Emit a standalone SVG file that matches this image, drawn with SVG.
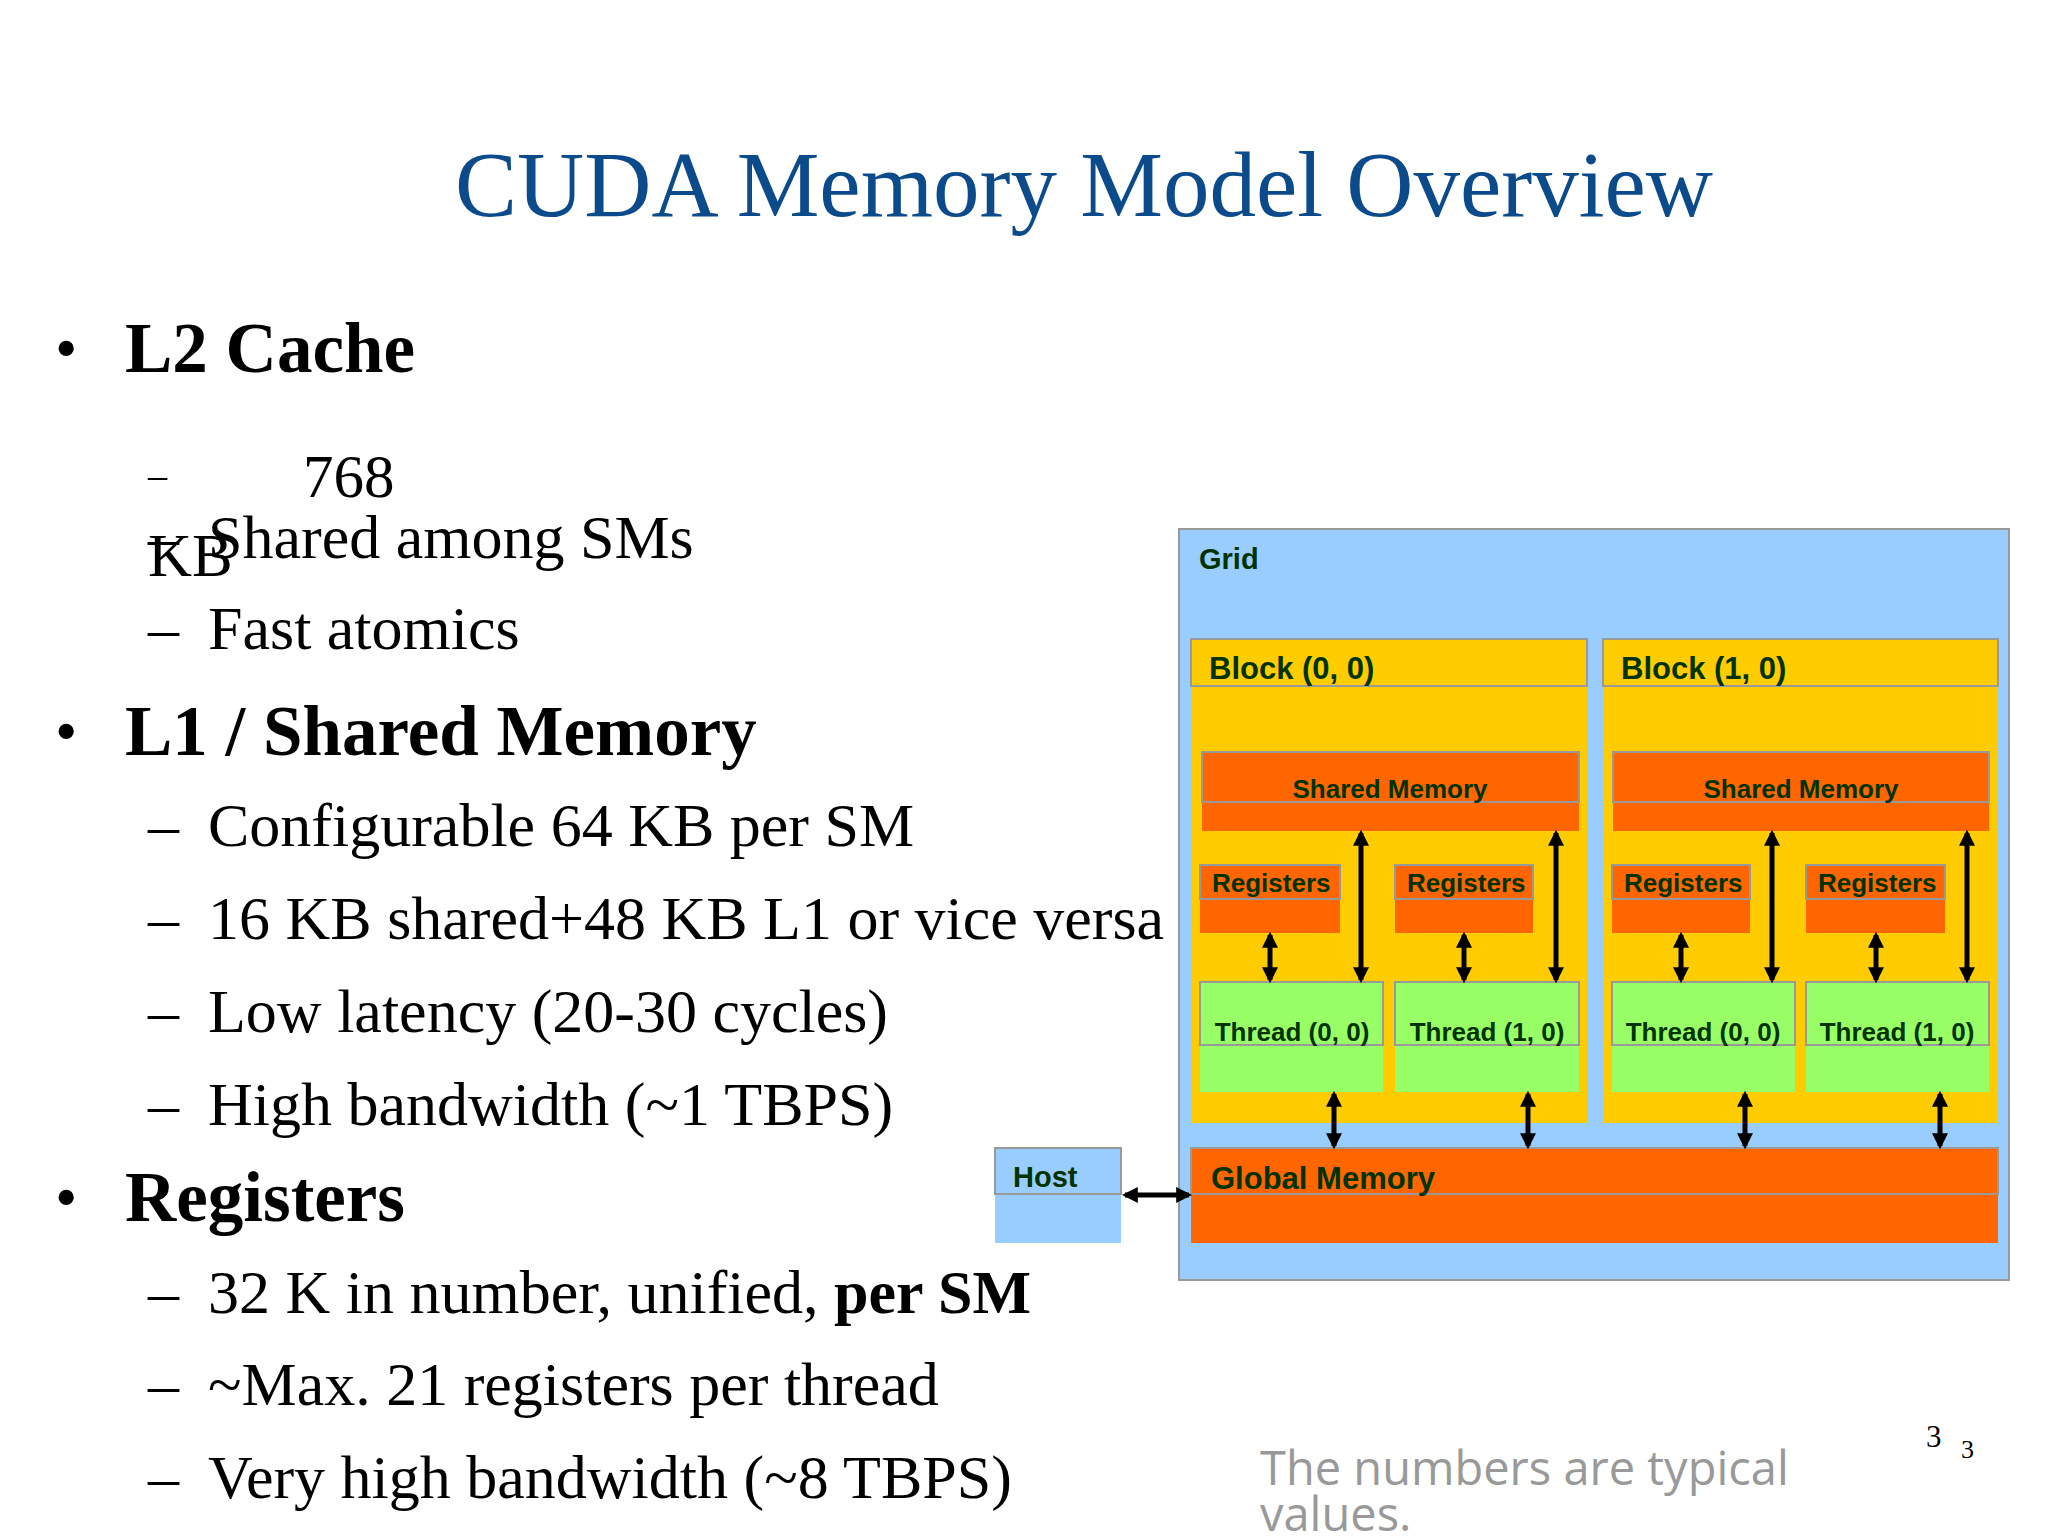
<svg xmlns="http://www.w3.org/2000/svg" width="2048" height="1536" viewBox="0 0 2048 1536">
<style>
.s{font-family:"Liberation Serif","Times New Roman",serif;fill:#000}
.d{font-family:"Liberation Sans",Arial,sans-serif;font-weight:bold;fill:#003300}
.b{stroke:#999;stroke-width:2}
.ln{stroke:#000;stroke-width:5;fill:none;marker-start:url(#a);marker-end:url(#a)}
</style>
<defs><marker id="a" viewBox="0 0 10 10" refX="8" refY="5" markerWidth="3.2" markerHeight="3.2" orient="auto-start-reverse"><path d="M0,0L10,5L0,10z" fill="#000"/></marker></defs>
<rect width="2048" height="1536" fill="#fff"/>
<text x="1084" y="216" text-anchor="middle" font-size="93" font-family="Liberation Serif,serif" fill="#0b4a8b">CUDA Memory Model Overview</text>
<g class="s">
<text x="55" y="370" font-size="64">•</text><text x="125" y="372" font-size="71" font-weight="bold">L2 Cache</text>
<text x="148" y="488" font-size="38">–</text><text x="303" y="497" font-size="61">768</text>
<text x="148" y="576" font-size="61">KB</text>
<text x="148" y="558" font-size="62">–</text><text x="208" y="558" font-size="62">Shared among SMs</text>
<text x="148" y="649" font-size="62">–</text><text x="208" y="649" font-size="62">Fast atomics</text>
<text x="55" y="753" font-size="64">•</text><text x="125" y="755" font-size="71" font-weight="bold">L1 / Shared Memory</text>
<text x="148" y="846" font-size="62">–</text><text x="208" y="846" font-size="62">Configurable 64 KB per SM</text>
<text x="148" y="939" font-size="62">–</text><text x="208" y="939" font-size="62">16 KB shared+48 KB L1 or vice versa</text>
<text x="148" y="1032" font-size="62">–</text><text x="208" y="1032" font-size="62">Low latency (20-30 cycles)</text>
<text x="148" y="1125" font-size="62">–</text><text x="208" y="1125" font-size="62">High bandwidth (~1 TBPS)</text>
<text x="55" y="1219" font-size="64">•</text><text x="125" y="1221" font-size="71" font-weight="bold">Registers</text>
<text x="148" y="1313" font-size="62">–</text><text x="208" y="1313" font-size="62">32 K in number, unified, <tspan font-weight="bold">per SM</tspan></text>
<text x="148" y="1405" font-size="62">–</text><text x="208" y="1405" font-size="62">~Max. 21 registers per thread</text>
<text x="148" y="1498" font-size="62">–</text><text x="208" y="1498" font-size="62">Very high bandwidth (~8 TBPS)</text>
</g>
<text x="1260" y="1485" font-size="47" font-family="Open Sans,sans-serif" fill="#999">The numbers are typical</text>
<text x="1260" y="1531" font-size="47" font-family="Open Sans,sans-serif" fill="#999">values.</text>
<text x="1926" y="1447" font-size="31" class="s">3</text>
<text x="1961" y="1458" font-size="26" class="s">3</text>
<g id="grid"><rect x="1179" y="529" width="830" height="751" fill="#99ccff" class="b"/><text x="1199" y="569" font-size="29" class="d">Grid</text></g>
<g id="block00"><rect x="1191" y="639" width="396" height="484" fill="#ffcc00"/><rect x="1191" y="639" width="396" height="47" fill="none" class="b"/><text x="1209" y="679" font-size="31" class="d">Block (0, 0)</text></g>
<g id="block10"><rect x="1603" y="639" width="395" height="484" fill="#ffcc00"/><rect x="1603" y="639" width="395" height="47" fill="none" class="b"/><text x="1621" y="679" font-size="31" class="d">Block (1, 0)</text></g>
<g id="shared0"><rect x="1202" y="752" width="377" height="79" fill="#ff6600"/><rect x="1202" y="752" width="377" height="50" fill="none" class="b"/><text x="1390" y="798" font-size="26" text-anchor="middle" class="d">Shared Memory</text></g>
<g id="shared1"><rect x="1613" y="752" width="376" height="79" fill="#ff6600"/><rect x="1613" y="752" width="376" height="50" fill="none" class="b"/><text x="1801" y="798" font-size="26" text-anchor="middle" class="d">Shared Memory</text></g>
<g id="reg00"><rect x="1200" y="865" width="140" height="68" fill="#ff6600"/><rect x="1200" y="865" width="140" height="34" fill="none" class="b"/><text x="1212" y="892" font-size="26" class="d">Registers</text></g>
<g id="reg01"><rect x="1395" y="865" width="138" height="68" fill="#ff6600"/><rect x="1395" y="865" width="138" height="34" fill="none" class="b"/><text x="1407" y="892" font-size="26" class="d">Registers</text></g>
<g id="reg10"><rect x="1612" y="865" width="138" height="68" fill="#ff6600"/><rect x="1612" y="865" width="138" height="34" fill="none" class="b"/><text x="1624" y="892" font-size="26" class="d">Registers</text></g>
<g id="reg11"><rect x="1806" y="865" width="139" height="68" fill="#ff6600"/><rect x="1806" y="865" width="139" height="34" fill="none" class="b"/><text x="1818" y="892" font-size="26" class="d">Registers</text></g>
<g id="th00"><rect x="1200" y="982" width="183" height="110" fill="#99ff66"/><rect x="1200" y="982" width="183" height="63" fill="none" class="b"/><text x="1292" y="1041" font-size="26" text-anchor="middle" class="d">Thread (0, 0)</text></g>
<g id="th01"><rect x="1395" y="982" width="184" height="110" fill="#99ff66"/><rect x="1395" y="982" width="184" height="63" fill="none" class="b"/><text x="1487" y="1041" font-size="26" text-anchor="middle" class="d">Thread (1, 0)</text></g>
<g id="th10"><rect x="1612" y="982" width="183" height="110" fill="#99ff66"/><rect x="1612" y="982" width="183" height="63" fill="none" class="b"/><text x="1703" y="1041" font-size="26" text-anchor="middle" class="d">Thread (0, 0)</text></g>
<g id="th11"><rect x="1806" y="982" width="183" height="110" fill="#99ff66"/><rect x="1806" y="982" width="183" height="63" fill="none" class="b"/><text x="1897" y="1041" font-size="26" text-anchor="middle" class="d">Thread (1, 0)</text></g>
<g id="global"><rect x="1191" y="1148" width="807" height="95" fill="#ff6600"/><rect x="1191" y="1148" width="807" height="46" fill="none" class="b"/><text x="1211" y="1189" font-size="31" class="d">Global Memory</text></g>
<g id="host"><rect x="995" y="1148" width="126" height="95" fill="#99ccff"/><rect x="995" y="1148" width="126" height="46" fill="none" class="b"/><text x="1013" y="1187" font-size="29" class="d">Host</text></g>
<g id="connectors">
<line class="ln" x1="1270" y1="935" x2="1270" y2="980"/><line class="ln" x1="1464" y1="935" x2="1464" y2="980"/>
<line class="ln" x1="1681" y1="935" x2="1681" y2="980"/><line class="ln" x1="1876" y1="935" x2="1876" y2="980"/>
<line class="ln" x1="1361" y1="833" x2="1361" y2="980"/><line class="ln" x1="1556" y1="833" x2="1556" y2="980"/>
<line class="ln" x1="1772" y1="833" x2="1772" y2="980"/><line class="ln" x1="1967" y1="833" x2="1967" y2="980"/>
<line class="ln" x1="1334" y1="1094" x2="1334" y2="1146"/><line class="ln" x1="1528" y1="1094" x2="1528" y2="1146"/>
<line class="ln" x1="1745" y1="1094" x2="1745" y2="1146"/><line class="ln" x1="1940" y1="1094" x2="1940" y2="1146"/>
<line class="ln" x1="1125" y1="1195" x2="1189" y2="1195"/>
</g>
</svg>
